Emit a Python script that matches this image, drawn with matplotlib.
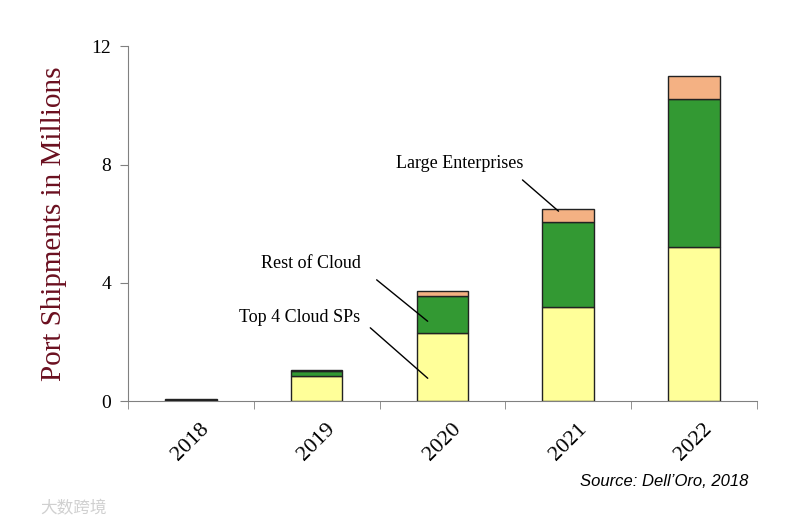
import numpy as np
import matplotlib.pyplot as plt

# Port shipments (millions)
years = ["2018", "2019", "2020", "2021", "2022"]
top4_cloud = [0.03, 0.86, 2.31, 3.17, 5.21]
rest_of_cloud = [0.02, 0.16, 1.26, 2.89, 5.01]
large_ent = [0.01, 0.02, 0.14, 0.45, 0.77]

yellow = "#FFFF99"
green = "#339933"
peach = "#F4B183"

fig = plt.figure(figsize=(8, 5.25), dpi=100)
ax = fig.add_axes([0.16, 0.236, 0.786, 0.676])

x = np.arange(len(years))
bottom2 = np.array(top4_cloud)
bottom3 = bottom2 + np.array(rest_of_cloud)
ax.bar(x, top4_cloud, width=0.41, color=yellow, edgecolor="#222222", linewidth=1, zorder=3)
ax.bar(x, rest_of_cloud, width=0.41, bottom=bottom2, color=green, edgecolor="#222222", linewidth=1, zorder=3)
ax.bar(x, large_ent, width=0.41, bottom=bottom3, color=peach, edgecolor="#222222", linewidth=1, zorder=3)

ax.set_xlim(-0.5, len(years) - 0.5)
ax.set_ylim(0, 12)
ax.set_yticks([0, 4, 8, 12])

serif = "Liberation Serif"
ax.set_xticks(x)
ax.set_xticklabels(years, rotation=45, fontsize=16, family=serif)
ax.set_xticks(np.arange(-0.5, len(years)), minor=True)
ax.tick_params(axis="x", which="major", length=0, pad=13)
ax.tick_params(axis="x", which="minor", length=6, color="#808080", direction="out")
ax.tick_params(axis="y", length=6, color="#808080", labelsize=14, pad=6)
for lab in ax.get_yticklabels():
    lab.set_family(serif)

for s in ["top", "right"]:
    ax.spines[s].set_visible(False)
for s in ["left", "bottom"]:
    ax.spines[s].set_color("#808080")

ax.set_ylabel("Port Shipments in Millions", fontsize=21, family=serif, color="#6B1020", labelpad=18)

# callout labels
ax.text(2.14, 8.05, "Large Enterprises", ha="center", va="center", fontsize=13, family=serif)
ax.annotate("", xy=(2.94, 6.36), xytext=(2.62, 7.54),
            arrowprops=dict(arrowstyle="-", color="black", lw=1), zorder=4)
ax.text(0.955, 4.66, "Rest of Cloud", ha="center", va="center", fontsize=13, family=serif)
ax.annotate("", xy=(1.90, 2.64), xytext=(1.46, 4.16),
            arrowprops=dict(arrowstyle="-", color="black", lw=1), zorder=4)
ax.text(0.867, 2.84, "Top 4 Cloud SPs", ha="center", va="center", fontsize=13, family=serif)
ax.annotate("", xy=(1.90, 0.71), xytext=(1.41, 2.54),
            arrowprops=dict(arrowstyle="-", color="black", lw=1), zorder=4)

fig.text(0.935, 0.082, "Source: Dell\u2019Oro, 2018", ha="right", va="center",
         fontsize=12, style="italic", family="Liberation Sans")
fig.text(0.05, 0.03, "大数跨境", ha="left", va="center", fontsize=12,
         color="#D0D0D0", family=["Noto Sans CJK SC", "DejaVu Sans"])

fig.savefig("out.png", dpi=100)
